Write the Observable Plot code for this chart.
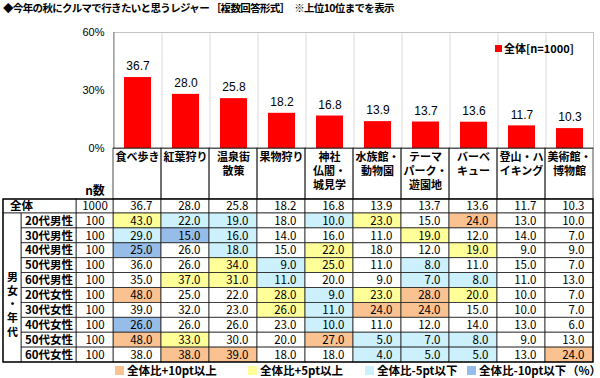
<!DOCTYPE html>
<html><head><meta charset="utf-8">
<script src="https://cdn.jsdelivr.net/npm/d3@7"></script>
<script src="https://cdn.jsdelivr.net/npm/@observablehq/plot@0.6"></script>
<style>
body{margin:0;background:#fff;}
#wrap{position:relative;width:600px;height:378px;font-family:"Noto Sans CJK JP",sans-serif;color:#000;overflow:hidden;}
#wrap svg{position:absolute;left:0;top:0;}
.title{position:absolute;left:3px;top:1px;font-size:10.5px;font-weight:bold;letter-spacing:-0.65px;white-space:pre;line-height:14px;}
.blg{position:absolute;left:495px;top:40px;font-size:11px;font-weight:bold;display:flex;align-items:center;white-space:nowrap;}
.blg i{display:inline-block;width:7px;height:7px;background:#ff0000;margin-right:2px;}
.lg{position:absolute;left:115px;top:363px;width:478px;display:flex;align-items:center;font-size:11.5px;font-weight:bold;white-space:nowrap;line-height:14px;}
.lg .it{display:flex;align-items:center;flex:none;}
.lg i{display:inline-block;width:9px;height:9px;margin-right:3px;flex:none;}
.lg .pct{margin-left:auto;margin-right:6px;font-weight:bold;}
</style></head><body><div id="wrap"></div>
<script>
const titleText = "◆今年の秋にクルマで行きたいと思うレジャー ［複数回答形式］　※上位10位までを表示";
const categories = ["食べ歩き","紅葉狩り","温泉街\n散策","果物狩り","神社\n仏閣・\n城見学","水族館・\n動物園","テーマ\nパーク・\n遊園地","バーベ\nキュー","登山・ハ\nイキング","美術館・\n博物館"];
const totalValues = [36.7,28.0,25.8,18.2,16.8,13.9,13.7,13.6,11.7,10.3];
const totalLabel = "全体";
const totalN = 1000;
const groupLabels = ["20代男性","30代男性","40代男性","50代男性","60代男性","20代女性","30代女性","40代女性","50代女性","60代女性"];
const groupN = [100,100,100,100,100,100,100,100,100,100];
const groupValues = [
  [43.0,22.0,19.0,18.0,10.0,23.0,15.0,24.0,13.0,10.0],
  [29.0,15.0,16.0,14.0,16.0,11.0,19.0,12.0,14.0,7.0],
  [25.0,26.0,18.0,15.0,22.0,18.0,12.0,19.0,9.0,9.0],
  [36.0,26.0,34.0,9.0,25.0,11.0,8.0,11.0,15.0,7.0],
  [35.0,37.0,31.0,11.0,20.0,9.0,7.0,8.0,11.0,13.0],
  [48.0,25.0,22.0,28.0,9.0,23.0,28.0,20.0,10.0,7.0],
  [39.0,32.0,23.0,26.0,11.0,24.0,24.0,15.0,10.0,7.0],
  [26.0,26.0,26.0,23.0,10.0,11.0,12.0,14.0,13.0,6.0],
  [48.0,33.0,30.0,20.0,27.0,5.0,7.0,8.0,9.0,13.0],
  [38.0,38.0,39.0,18.0,18.0,4.0,5.0,5.0,13.0,24.0]
];
const groupTitle = "男\n女\n・\n年\n代";
const nHeader = "n数";
const yTicks = [0,30,60];
const seriesLabel = "全体[n=1000]";
const legendLabels = ["全体比+10pt以上","全体比+5pt以上","全体比-5pt以下","全体比-10pt以下"];
const legendColors = ["#fac191","#ffff99","#ccf0fc","#96bdea"];
const unitLabel = "（%）";

function cellColor(diff){
  if (diff >= 10) return legendColors[0];
  if (diff >= 5) return legendColors[1];
  if (diff <= -10) return legendColors[3];
  if (diff <= -5) return legendColors[2];
  return "#ffffff";
}

const wrap = document.getElementById("wrap");
const title = document.createElement("div");
title.className = "title"; title.textContent = titleText; wrap.appendChild(title);

// ---- bar chart ----
const halfStep = 24;
const barData = categories.map((c,i)=>({c, v: totalValues[i]}));
const bar = Plot.plot({
  width:600, height:150, marginLeft:113, marginRight:7, marginTop:32, marginBottom:2,
  style:{fontFamily:"'Liberation Sans', Arial, sans-serif", fontSize:"11px", color:"#000", background:"transparent", overflow:"visible"},
  x:{domain:categories, paddingInner:0.4375, paddingOuter:0.21875, axis:null},
  y:{domain:[0,60], ticks:yTicks, tickFormat:d=>d+"%", tickSize:0, tickPadding:9, label:null},
  marks:[
    Plot.ruleX(categories.slice(0,-1), {x:d=>d, dx:halfStep, stroke:"#d9d9d9"}),
    Plot.frame({stroke:"#c4c4c4"}),
    Plot.barY(barData, {x:"c", y:"v", fill:"#ff0000"}),
    Plot.text(barData, {x:"c", y:"v", text:d=>d.v.toFixed(1), dy:-11, fontSize:12, fill:"#000"}),
    Plot.ruleY([0], {stroke:"#808080"}),
    Plot.ruleX([categories[0]], {x:d=>d, dx:-halfStep, stroke:"#808080"})
  ]
});
wrap.appendChild(bar);

const blg = document.createElement("div");
blg.className = "blg";
blg.innerHTML = "<i></i><span></span>";
blg.querySelector("span").textContent = seriesLabel;
wrap.appendChild(blg);

// ---- table ----
const rowsValues = [totalValues, ...groupValues];
const cells = rowsValues.flatMap((vals, ri) => vals.map((v, ci) => ({ri, ci, v, diff: ri === 0 ? 0 : v - totalValues[ci]})));
const nCells = [totalN, ...groupN].map((n, ri) => ({ri, n}));
const labelCells = groupLabels.map((l, i) => ({ri: i + 1, l}));
const headCells = categories.map((c, ci) => ({ci, c}));

const table = Plot.plot({
  width:600, height:378, margin:0,
  style:{fontFamily:"'Noto Sans CJK JP', sans-serif", fontSize:"12px", color:"#000", background:"transparent", overflow:"visible"},
  x:{type:"linear", domain:[0,1,2,3,13], range:[3,21,76,113,593], axis:null},
  y:{type:"linear", domain:[0,1,2,12], range:[148,199,213,362], axis:null},
  marks:[
    // header cells
    Plot.rect(headCells, {x1:d=>3+d.ci, x2:d=>4+d.ci, y1:0, y2:1, fill:"none", stroke:"#222", strokeWidth:0.8}),
    Plot.text(headCells, {x:d=>3.5+d.ci, y:0, text:"c", lineAnchor:"top", dy:3, lineHeight:1.27, fontSize:11, fontWeight:"bold", fill:"#000"}),
    Plot.text([nHeader], {x:2.5, y:1, text:d=>d, dy:-8, fontSize:12, fontWeight:"bold", fill:"#000"}),
    // value cells
    Plot.rect(cells, {x1:d=>3+d.ci, x2:d=>4+d.ci, y1:d=>1+d.ri, y2:d=>2+d.ri, fill:d=>cellColor(d.diff), stroke:"#222", strokeWidth:0.8}),
    Plot.text(cells, {x:d=>4+d.ci, y:d=>1.5+d.ri, text:d=>d.v.toFixed(1), textAnchor:"end", dx:-9, fontSize:11.5, fill:"#000"}),
    // n cells
    Plot.rect(nCells, {x1:2, x2:3, y1:d=>1+d.ri, y2:d=>2+d.ri, fill:"#fff", stroke:"#222", strokeWidth:0.8}),
    Plot.text(nCells, {x:2.5, y:d=>1.5+d.ri, text:d=>String(d.n), fontSize:11.5, fill:"#000"}),
    // label cells
    Plot.rect([totalLabel], {x1:0, x2:2, y1:1, y2:2, fill:"#fff", stroke:"#222", strokeWidth:0.8}),
    Plot.text([totalLabel], {x:1, y:1.5, text:d=>d, fontSize:11.5, fontWeight:"bold", fill:"#000"}),
    Plot.rect(labelCells, {x1:1, x2:2, y1:d=>1+d.ri, y2:d=>2+d.ri, fill:"#fff", stroke:"#222", strokeWidth:0.8}),
    Plot.text(labelCells, {x:1.5, y:d=>1.5+d.ri, text:"l", fontSize:11.5, fontWeight:"bold", fill:"#000"}),
    Plot.rect([groupTitle], {x1:0, x2:1, y1:2, y2:12, fill:"#fff", stroke:"#222", strokeWidth:0.8}),
    Plot.text([groupTitle], {x:0.5, y:7, text:d=>d, lineHeight:1.27, dy:16, fontSize:11, fontWeight:"bold", fill:"#000"}),
    // outer border
    Plot.rect([0], {x1:0, x2:13, y1:1, y2:12, fill:"none", stroke:"#000", strokeWidth:1.3})
  ]
});
wrap.appendChild(table);

const legendWidths = [133, 117, 102, 100];
const lg = document.createElement("div");
lg.className = "lg";
legendLabels.forEach((l, i) => {
  const it = document.createElement("span");
  it.className = "it";
  it.style.width = legendWidths[i] + "px";
  const sw = document.createElement("i");
  sw.style.background = legendColors[i];
  const tx = document.createElement("span");
  tx.textContent = l;
  it.appendChild(sw); it.appendChild(tx);
  lg.appendChild(it);
});
const pct = document.createElement("span");
pct.className = "pct"; pct.textContent = unitLabel;
lg.appendChild(pct);
wrap.appendChild(lg);
</script></body></html>
